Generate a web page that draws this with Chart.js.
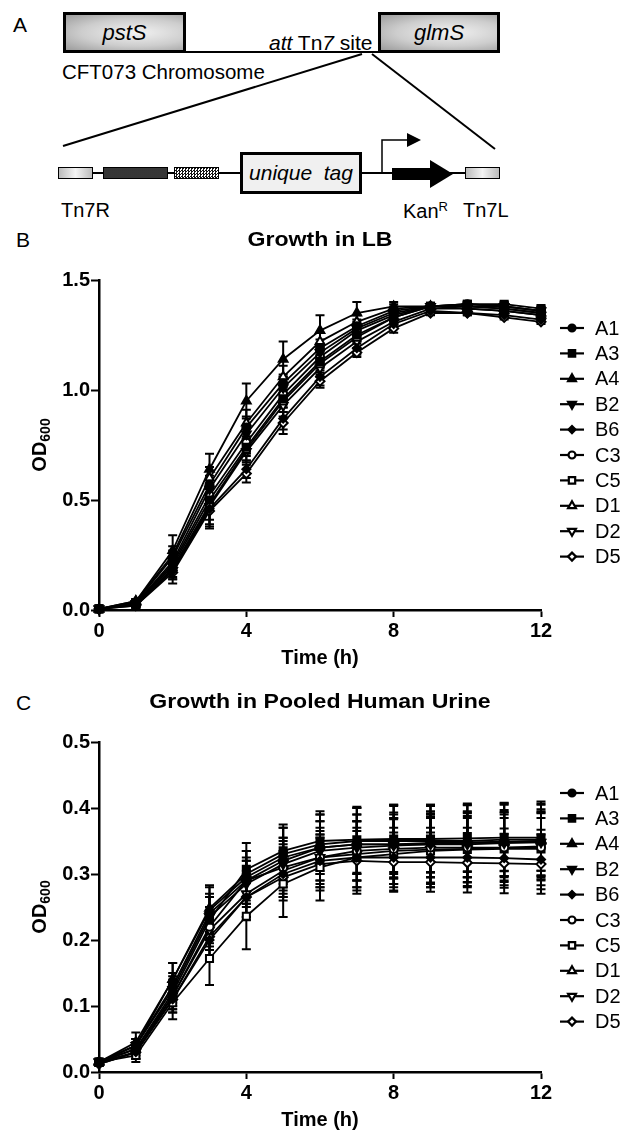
<!DOCTYPE html>
<html>
<head>
<meta charset="utf-8">
<script src="https://cdn.jsdelivr.net/npm/chart.js@4/dist/chart.umd.min.js"></script>
<style>
  body { margin: 0; background: #fff; font-family: 'Liberation Sans', Arial, sans-serif; }
  #page { position: relative; width: 633px; height: 1131px; overflow: hidden; }
  .lbl { position: absolute; line-height: 1; color: #000; white-space: nowrap; }
  .gene { position: absolute; box-sizing: border-box; border: 3px solid #000;
          background: radial-gradient(ellipse at 60% 50%, #f2f2f2 0%, #cdcdcd 55%, #9c9c9c 100%);
          display: flex; align-items: center; justify-content: center; font-style: italic; font-size: 22px; }
  .small { position: absolute; box-sizing: border-box; border: 1.5px solid #000; height: 12px; top: 167px; }
  canvas { position: absolute; left: 0; }
</style>
</head>
<body>
<div id="page">
  <!-- panel A: insertion map -->
  <svg width="633" height="215" style="position:absolute;left:0;top:0">
    <line x1="186" y1="52" x2="378" y2="52" stroke="#000" stroke-width="2"/>
    <line x1="362" y1="54" x2="63" y2="146" stroke="#000" stroke-width="2"/>
    <line x1="372" y1="54" x2="495" y2="149" stroke="#000" stroke-width="2"/>
    <line x1="93" y1="173" x2="465" y2="173" stroke="#000" stroke-width="2"/>
    <polyline points="382,173 382,140 408,140" fill="none" stroke="#000" stroke-width="1.5"/>
    <polygon points="407,133 421,140 407,147" fill="#000"/>
    <rect x="392" y="168" width="39" height="12" fill="#000"/>
    <polygon points="430,160 453,174 430,188" fill="#000"/>
  </svg>
  <div class="lbl" style="left:13px;top:14px;font-size:21px">A</div>
  <div class="gene" style="left:63px;top:12px;width:123px;height:41px">pstS</div>
  <div class="gene" style="left:378px;top:12px;width:122px;height:41px">glmS</div>
  <div class="lbl" style="left:269px;top:32px;font-size:21px"><i>att</i> Tn<i>7</i> site</div>
  <div class="lbl" style="left:62px;top:62px;font-size:20.5px">CFT073 Chromosome</div>
  <div class="small" style="left:58px;width:35px;background:linear-gradient(to right,#bbb,#f4f4f4 50%,#bbb)"></div>
  <div class="small" style="left:103px;width:65px;background:radial-gradient(#333 0.7px,transparent 1px) 0 0/2px 2px,#a0a0a0"></div>
  <div class="small" style="left:174px;width:45px;background:repeating-conic-gradient(#111 0 25%,#fff 0 50%) 0 0/3px 3px"></div>
  <div class="gene" style="left:240px;top:152px;width:122px;height:42px;background:#f0f0f0;font-size:21px">unique&nbsp; tag</div>
  <div class="small" style="left:465px;width:35px;background:linear-gradient(to right,#bbb,#f4f4f4 50%,#bbb)"></div>
  <div class="lbl" style="left:61px;top:200px;font-size:20px">Tn7R</div>
  <div class="lbl" style="left:403px;top:200px;font-size:20px">Kan<sup style="font-size:13px;vertical-align:7px">R</sup></div>
  <div class="lbl" style="left:463px;top:200px;font-size:20px">Tn7L</div>
  <div class="lbl" style="left:16px;top:229px;font-size:21px">B</div>
  <div class="lbl" style="left:16px;top:692px;font-size:21px">C</div>

  <canvas id="chartB" width="633" height="455" style="top:215px"></canvas>
  <canvas id="chartC" width="633" height="455" style="top:677px"></canvas>
</div>

<script>
const strains = ['A1', 'A3', 'A4', 'B2', 'B6', 'C3', 'C5', 'D1', 'D2', 'D5'];
const hours = [0, 1, 2, 3, 4, 5, 6, 7, 8, 9, 10, 11, 12];
const xTicks = [0, 4, 8, 12];
const yTicksLB = [0, 0.5, 1.0, 1.5];
const yTicksUrine = [0, 0.1, 0.2, 0.3, 0.4, 0.5];

// OD600 in LB, one array per strain (same order as strains)
const lbA1 = [0.005, 0.035, 0.24, 0.57, 0.83, 1.03, 1.19, 1.29, 1.36, 1.38, 1.38, 1.37, 1.35];
const lbA3 = [0.005, 0.03, 0.20, 0.50, 0.74, 0.96, 1.13, 1.25, 1.33, 1.38, 1.39, 1.39, 1.37];
const lbA4 = [0.005, 0.04, 0.27, 0.64, 0.95, 1.14, 1.27, 1.35, 1.38, 1.38, 1.37, 1.36, 1.34];
const lbB2 = [0.005, 0.03, 0.22, 0.55, 0.80, 1.01, 1.17, 1.28, 1.35, 1.38, 1.38, 1.38, 1.36];
const lbB6 = [0.005, 0.02, 0.18, 0.46, 0.64, 0.87, 1.06, 1.19, 1.30, 1.36, 1.35, 1.34, 1.32];
const lbC3 = [0.005, 0.03, 0.21, 0.52, 0.76, 0.98, 1.15, 1.27, 1.34, 1.38, 1.39, 1.38, 1.36];
const lbC5 = [0.005, 0.025, 0.19, 0.48, 0.73, 0.95, 1.12, 1.24, 1.33, 1.38, 1.39, 1.38, 1.36];
const lbD1 = [0.005, 0.04, 0.25, 0.60, 0.85, 1.06, 1.22, 1.31, 1.37, 1.38, 1.38, 1.37, 1.35];
const lbD2 = [0.005, 0.025, 0.18, 0.47, 0.72, 0.93, 1.10, 1.22, 1.31, 1.37, 1.37, 1.36, 1.34];
const lbD5 = [0.005, 0.02, 0.17, 0.45, 0.62, 0.85, 1.04, 1.17, 1.28, 1.35, 1.35, 1.33, 1.31];

// SD for LB
const lbA1Sd = [0.004, 0.01, 0.03, 0.04, 0.05, 0.04, 0.04, 0.03, 0.02, 0.01, 0.01, 0.01, 0.01];
const lbA3Sd = [0.004, 0.01, 0.03, 0.05, 0.04, 0.04, 0.04, 0.03, 0.02, 0.01, 0.01, 0.01, 0.01];
const lbA4Sd = [0.004, 0.01, 0.07, 0.07, 0.08, 0.08, 0.07, 0.05, 0.02, 0.01, 0.01, 0.01, 0.01];
const lbB2Sd = [0.004, 0.01, 0.04, 0.05, 0.04, 0.05, 0.04, 0.03, 0.02, 0.01, 0.01, 0.01, 0.01];
const lbB6Sd = [0.004, 0.01, 0.04, 0.09, 0.04, 0.05, 0.04, 0.03, 0.02, 0.01, 0.01, 0.01, 0.01];
const lbC3Sd = [0.004, 0.01, 0.03, 0.05, 0.05, 0.04, 0.03, 0.03, 0.02, 0.01, 0.01, 0.01, 0.01];
const lbC5Sd = [0.004, 0.01, 0.04, 0.07, 0.05, 0.05, 0.04, 0.03, 0.02, 0.01, 0.01, 0.01, 0.01];
const lbD1Sd = [0.004, 0.01, 0.04, 0.05, 0.06, 0.05, 0.04, 0.03, 0.02, 0.01, 0.01, 0.01, 0.01];
const lbD2Sd = [0.004, 0.01, 0.04, 0.08, 0.05, 0.05, 0.04, 0.03, 0.02, 0.01, 0.01, 0.01, 0.01];
const lbD5Sd = [0.004, 0.01, 0.05, 0.07, 0.04, 0.05, 0.03, 0.02, 0.02, 0.01, 0.01, 0.01, 0.01];

// OD600 in pooled human urine
const urA1 = [0.015, 0.04, 0.13, 0.24, 0.29, 0.32, 0.34, 0.345, 0.345, 0.347, 0.348, 0.349, 0.35];
const urA3 = [0.015, 0.035, 0.12, 0.23, 0.307, 0.335, 0.35, 0.352, 0.353, 0.353, 0.354, 0.355, 0.355];
const urA4 = [0.015, 0.045, 0.14, 0.248, 0.30, 0.33, 0.345, 0.35, 0.35, 0.35, 0.35, 0.352, 0.352];
const urB2 = [0.015, 0.04, 0.125, 0.235, 0.285, 0.315, 0.335, 0.34, 0.343, 0.345, 0.345, 0.347, 0.348];
const urB6 = [0.012, 0.03, 0.11, 0.20, 0.265, 0.30, 0.32, 0.325, 0.325, 0.325, 0.325, 0.324, 0.322];
const urC3 = [0.015, 0.035, 0.115, 0.22, 0.29, 0.31, 0.325, 0.335, 0.338, 0.34, 0.34, 0.34, 0.34];
const urC5 = [0.015, 0.025, 0.105, 0.172, 0.236, 0.285, 0.31, 0.325, 0.33, 0.335, 0.337, 0.338, 0.338];
const urD1 = [0.015, 0.04, 0.14, 0.245, 0.295, 0.325, 0.34, 0.345, 0.345, 0.345, 0.347, 0.348, 0.35];
const urD2 = [0.015, 0.03, 0.115, 0.215, 0.27, 0.305, 0.325, 0.33, 0.335, 0.337, 0.338, 0.34, 0.342];
const urD5 = [0.012, 0.03, 0.11, 0.205, 0.265, 0.295, 0.315, 0.32, 0.318, 0.318, 0.317, 0.316, 0.315];

// SD for urine
const urA1Sd = [0.003, 0.01, 0.02, 0.03, 0.03, 0.035, 0.04, 0.045, 0.045, 0.045, 0.045, 0.045, 0.045];
const urA3Sd = [0.003, 0.01, 0.02, 0.035, 0.04, 0.04, 0.045, 0.05, 0.05, 0.05, 0.05, 0.05, 0.05];
const urA4Sd = [0.003, 0.015, 0.025, 0.035, 0.035, 0.04, 0.045, 0.05, 0.055, 0.055, 0.055, 0.055, 0.055];
const urB2Sd = [0.003, 0.01, 0.02, 0.03, 0.035, 0.04, 0.045, 0.05, 0.05, 0.05, 0.05, 0.05, 0.05];
const urB6Sd = [0.003, 0.01, 0.02, 0.03, 0.03, 0.035, 0.04, 0.045, 0.045, 0.045, 0.045, 0.045, 0.045];
const urC3Sd = [0.003, 0.01, 0.02, 0.03, 0.035, 0.04, 0.04, 0.045, 0.045, 0.045, 0.045, 0.045, 0.045];
const urC5Sd = [0.003, 0.01, 0.025, 0.04, 0.05, 0.05, 0.05, 0.055, 0.055, 0.055, 0.055, 0.055, 0.055];
const urD1Sd = [0.003, 0.01, 0.025, 0.035, 0.04, 0.045, 0.05, 0.055, 0.06, 0.06, 0.06, 0.06, 0.06];
const urD2Sd = [0.003, 0.01, 0.02, 0.03, 0.035, 0.04, 0.045, 0.05, 0.05, 0.05, 0.05, 0.05, 0.05];
const urD5Sd = [0.003, 0.01, 0.02, 0.03, 0.035, 0.035, 0.04, 0.045, 0.045, 0.045, 0.045, 0.045, 0.045];

// Prism style symbols: first five filled, last five open
const markers = [
    { style: 'circle', r: 4, rot: 0, open: false },
    { style: 'rect', r: 5, rot: 0, open: false },
    { style: 'triangle', r: 5, rot: 0, open: false },
    { style: 'triangle', r: 5, rot: 180, open: false },
    { style: 'rectRot', r: 4, rot: 0, open: false },
    { style: 'circle', r: 4, rot: 0, open: true },
    { style: 'rect', r: 5, rot: 0, open: true },
    { style: 'triangle', r: 5, rot: 0, open: true },
    { style: 'triangle', r: 5, rot: 180, open: true },
    { style: 'rectRot', r: 4.5, rot: 0, open: true }
];

Chart.defaults.font.family = "'Liberation Sans', Arial, sans-serif";
Chart.defaults.color = '#000';

const errorBars = {
    id: 'errorBars',
    beforeDatasetsDraw(chart) {
        const ctx = chart.ctx;
        const x = chart.scales.x, y = chart.scales.y;
        ctx.save();
        ctx.strokeStyle = '#000';
        ctx.lineWidth = 2;
        chart.data.datasets.forEach(ds => {
            ds.data.forEach((p, i) => {
                const e = ds.sd[i];
                const px = x.getPixelForValue(p.x);
                const top = y.getPixelForValue(p.y + e);
                const bot = y.getPixelForValue(Math.max(0, p.y - e));
                ctx.beginPath();
                ctx.moveTo(px, top); ctx.lineTo(px, bot);
                ctx.moveTo(px - 4.5, top); ctx.lineTo(px + 4.5, top);
                ctx.moveTo(px - 4.5, bot); ctx.lineTo(px + 4.5, bot);
                ctx.stroke();
            });
        });
        ctx.restore();
    }
};

// text is a little wider than its height in the original, so stretch it sideways
function wideText(ctx, text, x, y, sx) {
    ctx.save();
    ctx.translate(x, y);
    ctx.scale(sx, 1);
    ctx.fillText(text, 0, 0);
    ctx.restore();
}

const decor = {
    id: 'decor',
    afterDraw(chart, args, opts) {
        const ctx = chart.ctx;
        const area = chart.chartArea;
        const cx = (area.left + area.right) / 2;
        ctx.save();
        ctx.fillStyle = '#000';
        ctx.textBaseline = 'middle';
        ctx.textAlign = 'center';
        ctx.font = "bold 21px 'Liberation Sans', Arial";
        wideText(ctx, opts.title, cx, area.top - 40, 1.1);
        ctx.font = "bold 20px 'Liberation Sans', Arial";
        ctx.fillText('Time (h)', cx, area.bottom + 48);

        // y title with subscript
        ctx.save();
        ctx.translate(40, (area.top + area.bottom) / 2);
        ctx.rotate(-Math.PI / 2);
        ctx.textAlign = 'left';
        ctx.font = "bold 20px 'Liberation Sans', Arial";
        const w1 = ctx.measureText('OD').width;
        ctx.font = "bold 14px 'Liberation Sans', Arial";
        const w2 = ctx.measureText('600').width;
        ctx.font = "bold 20px 'Liberation Sans', Arial";
        ctx.fillText('OD', -(w1 + w2) / 2, 0);
        ctx.font = "bold 14px 'Liberation Sans', Arial";
        ctx.fillText('600', -(w1 + w2) / 2 + w1, 6);
        ctx.restore();

        // legend: line with symbol, then strain name
        ctx.textAlign = 'left';
        ctx.font = "20px 'Liberation Sans', Arial";
        chart.data.datasets.forEach((ds, i) => {
            const ly = area.top + opts.legendTop + i * 25.4;
            ctx.strokeStyle = '#000';
            ctx.lineWidth = 2.2;
            ctx.beginPath();
            ctx.moveTo(560, ly); ctx.lineTo(584, ly);
            ctx.stroke();
            const m = markers[i];
            ctx.fillStyle = m.open ? '#fff' : '#000';
            Chart.helpers.drawPoint(ctx, {
                pointStyle: m.style, radius: m.r - 0.5, rotation: m.rot, borderWidth: 2
            }, 572, ly);
            ctx.fillStyle = '#000';
            ctx.fillText(ds.label, 595, ly + 1);
        });
        ctx.restore();
    }
};

function makeChart(id, title, series, sds, yMax, yTicks, legendTop) {
    const datasets = strains.map((name, i) => {
        const m = markers[i];
        return {
            label: name,
            data: hours.map((h, j) => ({ x: h, y: series[i][j] })),
            sd: sds[i],
            borderColor: '#000',
            borderWidth: 1.8,
            pointStyle: m.style,
            pointRotation: m.rot,
            pointRadius: m.r,
            pointBackgroundColor: m.open ? '#fff' : '#000',
            pointBorderColor: '#000',
            pointBorderWidth: 2,
            tension: 0,
            clip: false
        };
    });
    return new Chart(document.getElementById(id), {
        type: 'line',
        data: { datasets: datasets },
        options: {
            responsive: false,
            animation: false,
            devicePixelRatio: 1,
            layout: { padding: { top: 65, right: 92, left: 0, bottom: 0 } },
            plugins: {
                legend: { display: false },
                tooltip: { enabled: false },
                decor: { title: title, legendTop: legendTop }
            },
            scales: {
                x: {
                    type: 'linear', min: 0, max: 12,
                    afterBuildTicks: s => { s.ticks = xTicks.map(v => ({ value: v })); },
                    afterFit: s => { s.height = 60; },
                    grid: { drawOnChartArea: false, drawTicks: true, tickLength: 7, tickWidth: 2, tickColor: '#000' },
                    border: { display: true, color: '#000', width: 2.5 },
                    ticks: { font: { size: 20, weight: 'bold' }, padding: 2, maxRotation: 0 }
                },
                y: {
                    min: 0, max: yMax,
                    afterBuildTicks: s => { s.ticks = yTicks.map(v => ({ value: v })); },
                    afterFit: s => { s.width = 99; },
                    grid: { drawOnChartArea: false, drawTicks: true, tickLength: 8, tickWidth: 2, tickColor: '#000' },
                    border: { display: true, color: '#000', width: 2.5 },
                    ticks: { font: { size: 20, weight: 'bold' }, padding: 1, callback: v => v.toFixed(1) }
                }
            }
        },
        plugins: [errorBars, decor]
    });
}

makeChart('chartB', 'Growth in LB',
    [lbA1, lbA3, lbA4, lbB2, lbB6, lbC3, lbC5, lbD1, lbD2, lbD5],
    [lbA1Sd, lbA3Sd, lbA4Sd, lbB2Sd, lbB6Sd, lbC3Sd, lbC5Sd, lbD1Sd, lbD2Sd, lbD5Sd],
    1.5, yTicksLB, 48);

makeChart('chartC', 'Growth in Pooled Human Urine',
    [urA1, urA3, urA4, urB2, urB6, urC3, urC5, urD1, urD2, urD5],
    [urA1Sd, urA3Sd, urA4Sd, urB2Sd, urB6Sd, urC3Sd, urC5Sd, urD1Sd, urD2Sd, urD5Sd],
    0.5, yTicksUrine, 51);
</script>
</body>
</html>
